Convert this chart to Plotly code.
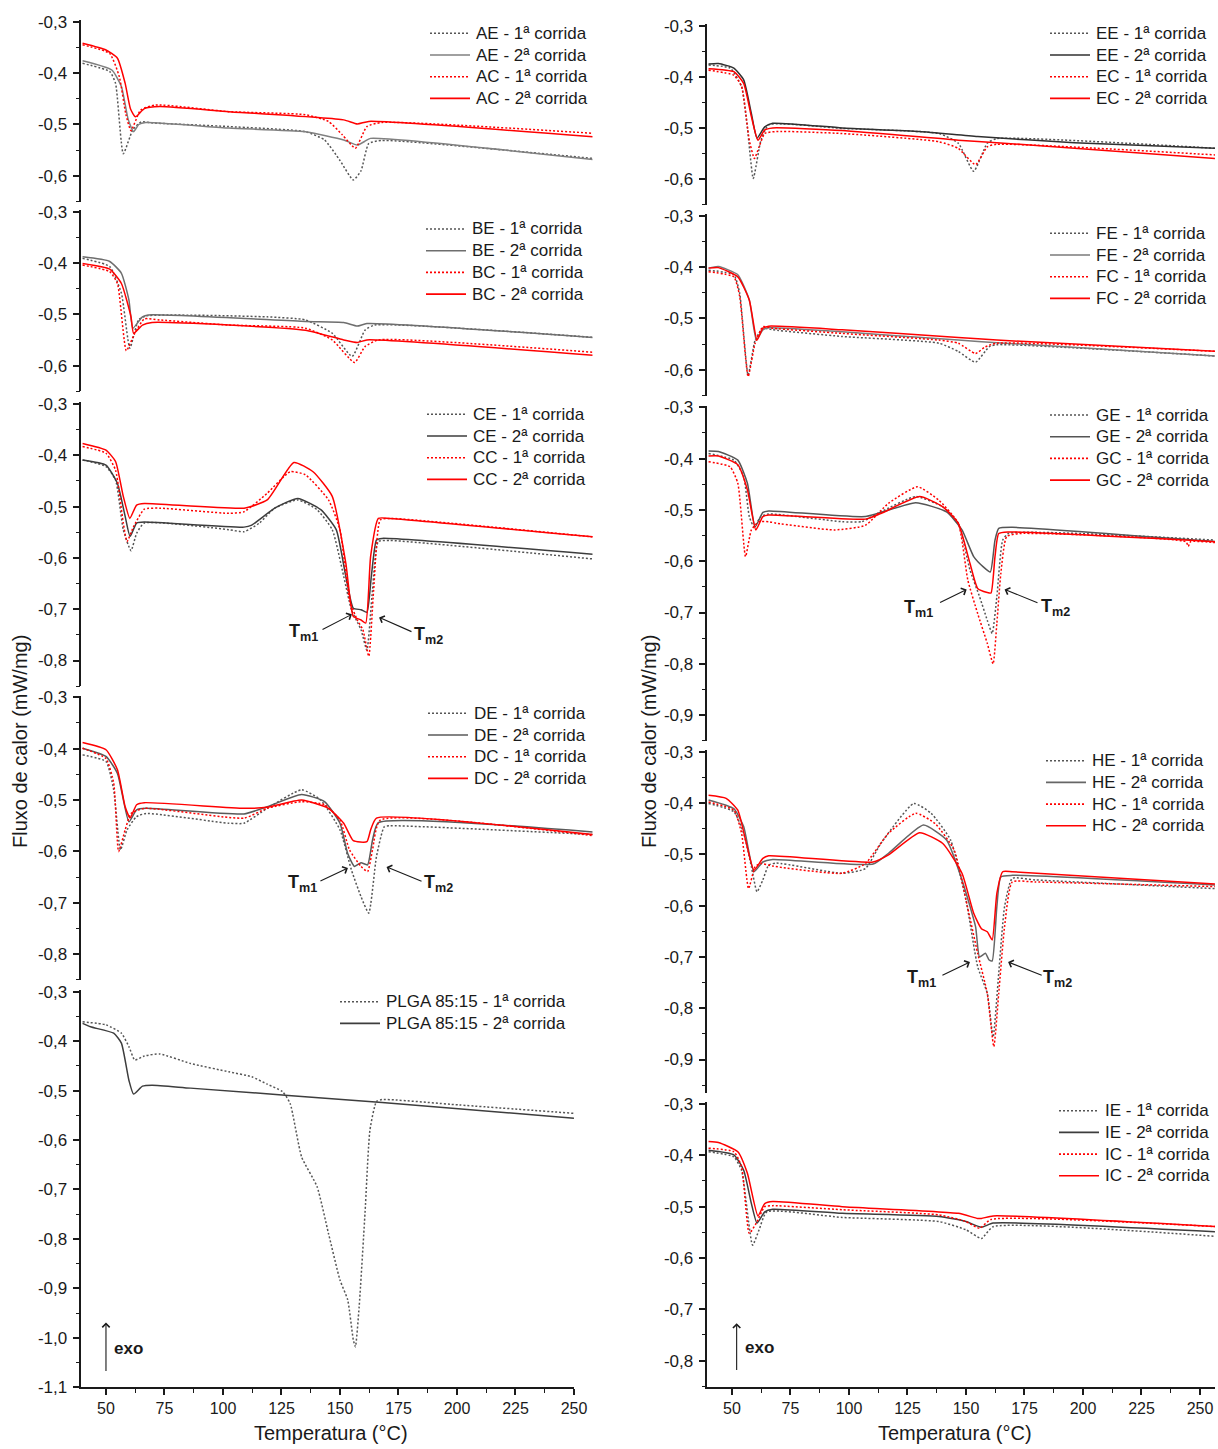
import plotly.graph_objects as go

# Canvas size (page body margin is removed after the plot is drawn, see write_html below)
W, H = 1218, 1449
OFF = 0

# ---------------- data: temperature (°C) and heat flow (mW/mg) ----------------
# Panel A
AE1_T = [40, 51.6, 54.1, 57.4, 61.5, 65, 70, 102.5, 135.2, 143.4, 150.0, 155.7, 159.0, 162.3, 168.0, 258]
AE1_Y = [-0.381, -0.397, -0.42, -0.557, -0.51, -0.495, -0.497, -0.504, -0.514, -0.53, -0.57, -0.608, -0.59, -0.537, -0.531, -0.566]
AE2_T = [40, 52.5, 56.6, 59.5, 61.8, 64, 67, 102.5, 135.2, 151.6, 157.4, 160.5, 163, 258]
AE2_Y = [-0.376, -0.394, -0.426, -0.49, -0.514, -0.5, -0.496, -0.507, -0.514, -0.53, -0.54, -0.533, -0.527, -0.568]
AC1_T = [40, 51.6, 55.7, 58.5, 60.7, 64.8, 71.3, 102.5, 135.2, 145.1, 151, 156.6, 161.5, 168, 258]
AC1_Y = [-0.345, -0.362, -0.407, -0.48, -0.512, -0.472, -0.462, -0.475, -0.481, -0.494, -0.52, -0.546, -0.504, -0.496, -0.517]
AC2_T = [40, 50, 54.9, 58.2, 60.5, 62.6, 66.4, 73, 102.5, 151.6, 157.4, 162.3, 258]
AC2_Y = [-0.342, -0.355, -0.371, -0.42, -0.47, -0.485, -0.469, -0.465, -0.475, -0.491, -0.499, -0.494, -0.524]
# Panel B
BE1_T = [40, 51.6, 56.6, 60.2, 63.9, 67.2, 118.9, 135.2, 146.7, 155.2, 160.7, 164.8, 258]
BE1_Y = [-0.391, -0.407, -0.459, -0.566, -0.511, -0.503, -0.505, -0.511, -0.537, -0.582, -0.531, -0.521, -0.545]
BE2_T = [40, 51.6, 56.6, 59.8, 61.5, 65.6, 69.7, 135.2, 151.6, 157.4, 161.5, 258]
BE2_Y = [-0.388, -0.397, -0.42, -0.472, -0.527, -0.505, -0.501, -0.514, -0.516, -0.523, -0.518, -0.545]
BC1_T = [40, 51.6, 54.9, 58.7, 62.3, 66.4, 73, 102.5, 135.2, 146.7, 156.2, 160.7, 166.4, 258]
BC1_Y = [-0.404, -0.417, -0.44, -0.571, -0.537, -0.509, -0.511, -0.521, -0.527, -0.55, -0.594, -0.563, -0.55, -0.574]
BC2_T = [40, 51.6, 56.6, 60.7, 61.8, 65.6, 69.7, 102.5, 135.2, 151.6, 157.4, 161.5, 258]
BC2_Y = [-0.401, -0.412, -0.44, -0.505, -0.537, -0.521, -0.516, -0.521, -0.531, -0.55, -0.555, -0.55, -0.58]
# Panel C
CE1_T = [40, 50, 54.1, 57.4, 60.7, 63.1, 66.4, 102.5, 109, 115.6, 122.1, 132, 140.2, 146.7, 151.6, 154.9, 159, 161.5, 163.9, 166.4, 171.3, 258]
CE1_Y = [-0.409, -0.422, -0.448, -0.545, -0.586, -0.552, -0.532, -0.545, -0.549, -0.532, -0.503, -0.487, -0.506, -0.545, -0.636, -0.701, -0.74, -0.78, -0.662, -0.568, -0.566, -0.602]
CE2_T = [40, 50, 54.9, 58.2, 60.3, 63.1, 66.4, 109, 112.3, 122.1, 132, 141.8, 148.4, 152.5, 155.7, 159, 161.5, 163.4, 165.6, 168, 258]
CE2_Y = [-0.409, -0.419, -0.455, -0.519, -0.558, -0.532, -0.53, -0.54, -0.536, -0.503, -0.484, -0.506, -0.545, -0.636, -0.698, -0.701, -0.706, -0.636, -0.565, -0.562, -0.593]
CC1_T = [40, 50, 54.1, 57.4, 59, 61.8, 66.4, 73, 102.5, 109, 118.9, 128.7, 135.2, 145.1, 150, 154.1, 157.4, 159.8, 162.3, 164.4, 167.2, 171.3, 258]
CC1_Y = [-0.383, -0.396, -0.429, -0.532, -0.568, -0.539, -0.505, -0.503, -0.513, -0.51, -0.474, -0.432, -0.438, -0.487, -0.545, -0.682, -0.721, -0.74, -0.792, -0.662, -0.526, -0.523, -0.559]
CC2_T = [40, 50, 54.1, 57.4, 60.2, 63.1, 66.4, 109, 118.9, 130.3, 138.5, 146.7, 152.5, 155.7, 159, 161, 163.1, 166.4, 171.3, 258]
CC2_Y = [-0.377, -0.39, -0.412, -0.48, -0.523, -0.497, -0.494, -0.503, -0.487, -0.414, -0.432, -0.48, -0.61, -0.714, -0.721, -0.727, -0.597, -0.523, -0.523, -0.559]
# Panel D
DE1_T = [40, 50, 53.3, 56.2, 59, 63.1, 67.2, 102.5, 109, 118.9, 133.6, 141.8, 150, 154.9, 159, 162.3, 165.6, 168.9, 171.3, 258]
DE1_Y = [-0.412, -0.425, -0.48, -0.597, -0.558, -0.532, -0.526, -0.545, -0.545, -0.516, -0.48, -0.5, -0.558, -0.636, -0.688, -0.72, -0.61, -0.552, -0.55, -0.567]
DE2_T = [40, 50, 54.9, 59.8, 63.1, 67.2, 109, 118.9, 133.6, 143.4, 150, 153.3, 156.2, 159, 161.8, 163.9, 166.4, 258]
DE2_Y = [-0.399, -0.415, -0.448, -0.542, -0.519, -0.516, -0.527, -0.513, -0.489, -0.503, -0.545, -0.604, -0.629, -0.622, -0.626, -0.578, -0.544, -0.562]
DC1_T = [40, 50, 53.3, 55.4, 58.2, 60.7, 66.4, 109, 118.9, 133.6, 143.4, 150, 154.1, 159, 161.8, 163.9, 167.2, 258]
DC1_Y = [-0.399, -0.419, -0.467, -0.6, -0.558, -0.526, -0.516, -0.535, -0.516, -0.503, -0.509, -0.539, -0.597, -0.629, -0.639, -0.597, -0.539, -0.569]
DC2_T = [40, 50, 54.9, 58.2, 60.3, 63.1, 66.4, 109, 118.9, 133.6, 145.1, 151.6, 155.7, 161.5, 163.1, 165.6, 258]
DC2_Y = [-0.388, -0.402, -0.441, -0.513, -0.535, -0.509, -0.505, -0.516, -0.514, -0.5, -0.516, -0.545, -0.579, -0.581, -0.558, -0.535, -0.567]
# Panel PLGA 85:15
P1_T = [40, 50, 56.6, 59.8, 62.3, 66.4, 73, 86.1, 102.5, 112.3, 118.9, 125.4, 128.7, 133.6, 140.2, 145.1, 150, 153.3, 155.7, 156.6, 158.2, 160.7, 162.8, 165.6, 168, 200.8, 250]
P1_Y = [-0.361, -0.367, -0.384, -0.411, -0.438, -0.43, -0.426, -0.445, -0.462, -0.472, -0.487, -0.502, -0.526, -0.634, -0.694, -0.789, -0.883, -0.923, -1.004, -1.018, -0.937, -0.748, -0.58, -0.522, -0.518, -0.529, -0.546]
P2_T = [40, 43.4, 53.3, 56.6, 59.8, 61.8, 65.6, 69.7, 86.1, 168, 250]
P2_Y = [-0.364, -0.371, -0.384, -0.404, -0.479, -0.507, -0.491, -0.489, -0.495, -0.524, -0.556]
# Panel E
EE1_T = [40, 49.2, 54.1, 56.6, 59.1, 62.4, 65.7, 97.1, 138.4, 146.7, 153.3, 159.1, 163.2, 257]
EE1_Y = [-0.377, -0.383, -0.419, -0.5, -0.599, -0.524, -0.494, -0.501, -0.511, -0.53, -0.585, -0.53, -0.521, -0.54]
EE2_T = [40, 44.2, 50.8, 55, 58.3, 60.7, 64, 67.4, 97.1, 130.2, 155, 196.3, 257]
EE2_Y = [-0.375, -0.374, -0.383, -0.406, -0.472, -0.52, -0.498, -0.491, -0.5, -0.507, -0.517, -0.529, -0.54]
EC1_T = [40, 50.8, 54.1, 57.4, 59.6, 61.6, 64, 69, 97.1, 138.4, 146.7, 154.1, 159.1, 163.2, 257]
EC1_Y = [-0.387, -0.397, -0.419, -0.524, -0.56, -0.537, -0.511, -0.507, -0.511, -0.527, -0.54, -0.572, -0.537, -0.532, -0.553]
EC2_T = [40, 50.8, 55, 58.3, 61.1, 64, 67.4, 97.1, 146.7, 163.2, 257]
EC2_Y = [-0.384, -0.39, -0.413, -0.478, -0.524, -0.504, -0.5, -0.505, -0.524, -0.529, -0.56]
# Panel F
FE1_T = [40, 50.8, 53.3, 56.9, 59.9, 63.2, 67.4, 97.1, 138.4, 146.7, 154.1, 159.9, 163.2, 257]
FE1_Y = [-0.406, -0.415, -0.451, -0.61, -0.542, -0.519, -0.522, -0.535, -0.548, -0.564, -0.585, -0.555, -0.551, -0.573]
FE2_T = [40, 44.2, 52.5, 57.4, 60.4, 63.2, 65.7, 97.1, 146.7, 163.2, 257]
FE2_Y = [-0.402, -0.399, -0.415, -0.464, -0.542, -0.522, -0.518, -0.526, -0.542, -0.547, -0.573]
FC1_T = [40, 50.8, 53.3, 56.9, 59.9, 63.2, 67.4, 97.1, 138.4, 146.7, 154.1, 158.3, 163.2, 257]
FC1_Y = [-0.409, -0.419, -0.457, -0.613, -0.548, -0.516, -0.519, -0.529, -0.542, -0.548, -0.568, -0.555, -0.548, -0.564]
FC2_T = [40, 44.2, 52.5, 57.4, 60.7, 63.2, 65.7, 97.1, 146.7, 163.2, 257]
FC2_Y = [-0.402, -0.401, -0.419, -0.464, -0.542, -0.519, -0.515, -0.522, -0.537, -0.542, -0.564]
# Panel G
GE1_T = [40, 50.8, 55, 57.4, 59.4, 62.4, 65.7, 97.1, 105.4, 113.6, 128.5, 140.1, 146.7, 151.7, 155.8, 159.1, 161.2, 163.2, 165.7, 168.2, 257]
GE1_Y = [-0.39, -0.403, -0.435, -0.513, -0.533, -0.513, -0.508, -0.523, -0.523, -0.504, -0.474, -0.494, -0.526, -0.617, -0.669, -0.715, -0.741, -0.669, -0.559, -0.546, -0.559]
GE2_T = [40, 44.2, 52.5, 56.6, 59.9, 63.2, 65.7, 107, 128.5, 141.7, 148.3, 153.3, 157.4, 160.4, 162.4, 164, 169.8, 257]
GE2_Y = [-0.385, -0.386, -0.403, -0.448, -0.533, -0.505, -0.502, -0.513, -0.486, -0.504, -0.539, -0.591, -0.611, -0.621, -0.559, -0.536, -0.534, -0.562]
GC1_T = [40, 49.2, 52.5, 55.8, 58.3, 61.6, 65.7, 69, 93.8, 107, 116.9, 129.3, 138.4, 146.7, 150.8, 155, 159.1, 161.6, 163.2, 164.9, 167.4, 173.1, 244, 245, 246, 257]
GC1_Y = [-0.406, -0.416, -0.448, -0.591, -0.539, -0.523, -0.523, -0.526, -0.539, -0.53, -0.487, -0.455, -0.481, -0.526, -0.637, -0.702, -0.76, -0.8, -0.721, -0.624, -0.552, -0.546, -0.562, -0.571, -0.562, -0.564]
GC2_T = [40, 44.2, 52.5, 56.6, 60.2, 63.2, 65.7, 107, 113.6, 130.2, 140.1, 146.7, 151.7, 155, 159.1, 160.7, 162.4, 164, 168.2, 257]
GC2_Y = [-0.395, -0.395, -0.412, -0.461, -0.539, -0.513, -0.51, -0.518, -0.507, -0.474, -0.494, -0.526, -0.604, -0.653, -0.661, -0.662, -0.591, -0.546, -0.543, -0.562]
# Panel H
HE1_T = [40, 50.8, 55, 58.3, 60.7, 63.2, 65.7, 69, 97.1, 107, 113.6, 127.7, 135.1, 143.4, 150, 155, 159.1, 161.6, 164, 166.5, 169.8, 179.8, 257]
HE1_Y = [-0.401, -0.417, -0.459, -0.524, -0.573, -0.55, -0.521, -0.517, -0.537, -0.528, -0.479, -0.401, -0.42, -0.472, -0.589, -0.719, -0.771, -0.856, -0.732, -0.602, -0.547, -0.55, -0.567]
HE2_T = [40, 50.8, 55, 59.4, 63.2, 67.4, 110.3, 116.9, 131.8, 141.7, 148.3, 154.1, 155.8, 158.3, 159.9, 161.2, 163.2, 164.9, 169.8, 257]
HE2_Y = [-0.394, -0.411, -0.446, -0.534, -0.515, -0.51, -0.519, -0.498, -0.443, -0.472, -0.55, -0.641, -0.7, -0.693, -0.706, -0.708, -0.602, -0.544, -0.541, -0.56]
HC1_T = [40, 50.8, 54.1, 57.1, 59.9, 62.4, 67.4, 97.1, 107, 116.9, 128.5, 136.8, 145, 150, 155, 159.1, 161.9, 164, 166.5, 169.8, 179.8, 257]
HC1_Y = [-0.398, -0.414, -0.459, -0.567, -0.524, -0.518, -0.523, -0.537, -0.518, -0.459, -0.42, -0.44, -0.492, -0.589, -0.693, -0.771, -0.875, -0.771, -0.641, -0.554, -0.554, -0.563]
HC2_T = [40, 47.5, 52.5, 55.8, 59.4, 63.2, 65.7, 110.3, 116.9, 130.2, 140.1, 148.3, 153.3, 156.6, 159.1, 161.2, 163.2, 165.7, 169.8, 257]
HC2_Y = [-0.385, -0.391, -0.414, -0.472, -0.531, -0.508, -0.503, -0.515, -0.501, -0.458, -0.479, -0.537, -0.615, -0.645, -0.651, -0.667, -0.576, -0.534, -0.534, -0.558]
# Panel I
IE1_T = [40, 50.8, 54.1, 58.8, 61.6, 64.9, 97.1, 138.4, 150, 156.6, 161.6, 257]
IE1_Y = [-0.393, -0.403, -0.429, -0.575, -0.545, -0.51, -0.521, -0.529, -0.545, -0.562, -0.539, -0.558]
IE2_T = [40, 50.8, 55, 58.3, 60.7, 64, 67.4, 97.1, 138.4, 150, 156.6, 161.6, 257]
IE2_Y = [-0.39, -0.399, -0.429, -0.494, -0.532, -0.51, -0.505, -0.513, -0.519, -0.529, -0.54, -0.532, -0.549]
IC1_T = [40, 50.8, 54.1, 57.4, 60.4, 64, 67.4, 97.1, 138.4, 150, 155.8, 160.7, 257]
IC1_Y = [-0.386, -0.393, -0.422, -0.552, -0.532, -0.5, -0.498, -0.506, -0.516, -0.529, -0.542, -0.525, -0.539]
IC2_T = [40, 44.2, 52.5, 56.6, 61.1, 64, 67.4, 97.1, 146.7, 155, 156.6, 161.6, 257]
IC2_Y = [-0.373, -0.375, -0.393, -0.435, -0.518, -0.494, -0.49, -0.5, -0.513, -0.523, -0.523, -0.518, -0.539]

# tick labels
Y_TICKS = [-1.1, -1.0, -0.9, -0.8, -0.7, -0.6, -0.5, -0.4, -0.3]
Y_TICKTEXT = ["-1,1", "-1,0", "-0,9", "-0,8", "-0,7", "-0,6", "-0,5", "-0,4", "-0,3"]
Y_MINOR = [-1.05, -0.95, -0.85, -0.75, -0.65, -0.55, -0.45, -0.35]
X_TICKS = [50, 75, 100, 125, 150, 175, 200, 225, 250]
X_TICKTEXT = ["50", "75", "100", "125", "150", "175", "200", "225", "250"]
X_MINOR = [62.5, 87.5, 112.5, 137.5, 162.5, 187.5, 212.5, 237.5]

FONT = "Arial, Liberation Sans, sans-serif"
INK = "#1a1a1a"
GRAY_DOT = "#555555"
RED = "#ff0000"
DOT = "2px,2px"


def px(p):
    """canvas x pixel -> paper fraction"""
    return (p - OFF) / W


def py(p):
    """canvas y pixel -> paper fraction"""
    return 1 - (p - OFF) / H


# panel layout: (series, y-range bottom, pixel of -0,3, px per unit, column, legend row1 y, legend text x, solid gray, x max, show x axis)
PANELS = [
    ([("AE", AE1_T, AE1_Y, AE2_T, AE2_Y), ("AC", AC1_T, AC1_Y, AC2_T, AC2_Y)], -0.65, 21.7, 514, 0, 33.3, 474, "#808080", 258, False),
    ([("BE", BE1_T, BE1_Y, BE2_T, BE2_Y), ("BC", BC1_T, BC1_Y, BC2_T, BC2_Y)], -0.65, 211.7, 513, 0, 229, 470, "#6e6e6e", 258, False),
    ([("CE", CE1_T, CE1_Y, CE2_T, CE2_Y), ("CC", CC1_T, CC1_Y, CC2_T, CC2_Y)], -0.85, 404, 513, 0, 414.3, 471, "#3d3d3d", 258, False),
    ([("DE", DE1_T, DE1_Y, DE2_T, DE2_Y), ("DC", DC1_T, DC1_Y, DC2_T, DC2_Y)], -0.85, 697.3, 514, 0, 713.3, 472, "#5a5a5a", 258, False),
    ([("PLGA 85:15", P1_T, P1_Y, P2_T, P2_Y)], -1.1, 991.7, 494.5, 0, 1001.7, 384, "#3d3d3d", 250, True),
    ([("EE", EE1_T, EE1_Y, EE2_T, EE2_Y), ("EC", EC1_T, EC1_Y, EC2_T, EC2_Y)], -0.65, 25.7, 511, 1, 33.3, 1094, "#303030", 256.4, False),
    ([("FE", FE1_T, FE1_Y, FE2_T, FE2_Y), ("FC", FC1_T, FC1_Y, FC2_T, FC2_Y)], -0.65, 215.7, 514, 1, 233.3, 1094, "#7a7a7a", 256.4, False),
    ([("GE", GE1_T, GE1_Y, GE2_T, GE2_Y), ("GC", GC1_T, GC1_Y, GC2_T, GC2_Y)], -0.95, 407.3, 513, 1, 415, 1094, "#555555", 256.4, False),
    ([("HE", HE1_T, HE1_Y, HE2_T, HE2_Y), ("HC", HC1_T, HC1_Y, HC2_T, HC2_Y)], -0.965, 751.7, 513, 1, 760.7, 1090, "#666666", 256.4, False),
    ([("IE", IE1_T, IE1_Y, IE2_T, IE2_Y), ("IC", IC1_T, IC1_Y, IC2_T, IC2_Y)], -0.851, 1104, 513.3, 1, 1110.7, 1103, "#3d3d3d", 256.4, True),
]

X0 = 39.5
PX_PER_DEG = 2.34
COL_LEFT = [81.4, 707.4]
YTOP = -0.297
LEG_STEP = 21.7

fig = go.Figure()
layout = {}
annotations = []
shapes = []

for i, (groups, ybot, p03, ppu, col, leg_y, leg_x, gray2, xmax, showx) in enumerate(PANELS):
    n = i + 1
    xa = "x" if n == 1 else f"x{n}"
    ya = "y" if n == 1 else f"y{n}"
    entries = []
    for gi, (name, t1, y1, t2, y2) in enumerate(groups):
        if gi == 0:
            c1, c2 = GRAY_DOT, gray2
        else:
            c1, c2 = RED, RED
        fig.add_trace(go.Scatter(x=t1, y=y1, mode="lines", name=f"{name} - 1ª corrida", showlegend=False,
                                 line=dict(color=c1, width=1.5, dash=DOT, shape="spline", smoothing=0.5),
                                 xaxis=xa, yaxis=ya))
        fig.add_trace(go.Scatter(x=t2, y=y2, mode="lines", name=f"{name} - 2ª corrida", showlegend=False,
                                 line=dict(color=c2, width=1.5, shape="spline", smoothing=0.5),
                                 xaxis=xa, yaxis=ya))
        entries.append((f"{name} - 1ª corrida", c1, DOT))
        entries.append((f"{name} - 2ª corrida", c2, "solid"))
    # legend drawn as line samples + texts
    for k, (label, color, dash) in enumerate(entries):
        yy = py(leg_y + k * LEG_STEP)
        shapes.append(dict(type="line", xref="paper", yref="paper", x0=px(leg_x - 44), x1=px(leg_x - 4),
                           y0=yy, y1=yy, line=dict(color=color, width=1.6, dash=dash)))
        annotations.append(dict(text=label, x=px(leg_x), y=yy, xref="paper", yref="paper", xanchor="left",
                                yanchor="middle", showarrow=False, font=dict(family=FONT, size=17, color=INK)))

    top_px = p03 - (YTOP + 0.3) * ppu
    bot_px = p03 + (-0.3 - ybot) * ppu
    left_px = COL_LEFT[col]
    right_px = left_px + (xmax - X0) * PX_PER_DEG
    xkey = "xaxis" if n == 1 else f"xaxis{n}"
    ykey = "yaxis" if n == 1 else f"yaxis{n}"
    layout[xkey] = dict(
        domain=[px(left_px), min(px(right_px), 1.0)], range=[X0, xmax], anchor=ya, automargin=False,
        visible=showx, showline=True, linecolor=INK, linewidth=1.6, mirror=False,
        ticks="outside", ticklen=6, tickwidth=1.6, tickcolor=INK,
        tickmode="array", tickvals=X_TICKS, ticktext=X_TICKTEXT,
        minor=dict(ticks="outside", ticklen=4, tickwidth=1.4, tickcolor=INK, tickmode="array", tickvals=X_MINOR),
        tickfont=dict(family=FONT, size=16, color=INK), showgrid=False, zeroline=False,
        ticklabelstandoff=0, ticklabeloverflow="allow",
    )
    layout[ykey] = dict(
        domain=[py(bot_px), py(top_px)], range=[ybot, YTOP], anchor=xa, automargin=False,
        showline=True, linecolor=INK, linewidth=1.6,
        ticks="outside", ticklen=7, tickwidth=1.6, tickcolor=INK,
        tickmode="array", tickvals=Y_TICKS, ticktext=Y_TICKTEXT,
        minor=dict(ticks="outside", ticklen=4, tickwidth=1.4, tickcolor=INK, tickmode="array", tickvals=Y_MINOR),
        tickfont=dict(family=FONT, size=17, color=INK), showgrid=False, zeroline=False,
        ticklabelstandoff=2,
    )

# axis titles
for cx in (20, 649):
    annotations.append(dict(text="Fluxo de calor (mW/mg)", x=px(cx), y=py(742), xref="paper", yref="paper",
                            xanchor="center", yanchor="middle",
                            showarrow=False, textangle=-90, font=dict(family=FONT, size=20, color=INK)))
for cx in (331, 955):
    annotations.append(dict(text="Temperatura (°C)", x=px(cx), y=py(1433), xref="paper", yref="paper",
                            xanchor="center", yanchor="middle",
                            showarrow=False, font=dict(family=FONT, size=20, color=INK)))

# Tm labels with arrows: (axes, label x, label y, tail x, tail y, head x, head y, subscript)
TM = [
    ("x3", "y3", 134.6, -0.745, 141.9, -0.741, 155.1, -0.710, "m1"),
    ("x3", "y3", 188.0, -0.751, 181.2, -0.745, 166.7, -0.716, "m2"),
    ("x4", "y4", 133.8, -0.663, 141.0, -0.659, 153.4, -0.632, "m1"),
    ("x4", "y4", 191.9, -0.663, 185.5, -0.659, 169.9, -0.630, "m2"),
    ("x8", "y8", 129.7, -0.692, 138.3, -0.682, 150.3, -0.655, "m1"),
    ("x8", "y8", 188.1, -0.690, 181.2, -0.682, 166.5, -0.655, "m2"),
    ("x9", "y9", 130.8, -0.743, 139.3, -0.737, 151.7, -0.710, "m1"),
    ("x9", "y9", 188.9, -0.743, 183.0, -0.737, 168.0, -0.710, "m2"),
]
for xa, ya, lx, ly, tx, ty, hx, hy, sub in TM:
    annotations.append(dict(text=f"<b>T<sub>{sub}</sub></b>", x=lx, y=ly, xref=xa, yref=ya, showarrow=False,
                            xanchor="center", yanchor="middle", font=dict(family=FONT, size=18, color=INK)))
    annotations.append(dict(text="", x=hx, y=hy, xref=xa, yref=ya, ax=tx, ay=ty, axref=xa, ayref=ya,
                            showarrow=True, arrowhead=4, arrowsize=1.3, arrowwidth=1.1, arrowcolor=INK))

# exo arrows
EXO = [("x5", "y5", 50, -1.07, -0.969, 59.8, -1.022), ("x10", "y10", 52, -0.821, -0.727, 61.6, -0.775)]
for xa, ya, ax_, y0, y1, tx, ty in EXO:
    annotations.append(dict(text="", x=ax_, y=y1, xref=xa, yref=ya, ax=ax_, ay=y0, axref=xa, ayref=ya,
                            showarrow=True, arrowhead=4, arrowsize=1.3, arrowwidth=1.1, arrowcolor=INK))
    annotations.append(dict(text="<b>exo</b>", x=tx, y=ty, xref=xa, yref=ya, showarrow=False,
                            xanchor="center", yanchor="middle", font=dict(family=FONT, size=17, color=INK)))

fig.update_layout(
    width=W, height=H, margin=dict(l=0, r=0, t=0, b=0, autoexpand=False),
    paper_bgcolor="white", plot_bgcolor="white", showlegend=False,
    annotations=annotations, shapes=shapes, **layout,
)

fig.write_html("out.html", config={"displayModeBar": False},
               post_script="document.body.style.margin='0';document.body.style.overflow='hidden';")
